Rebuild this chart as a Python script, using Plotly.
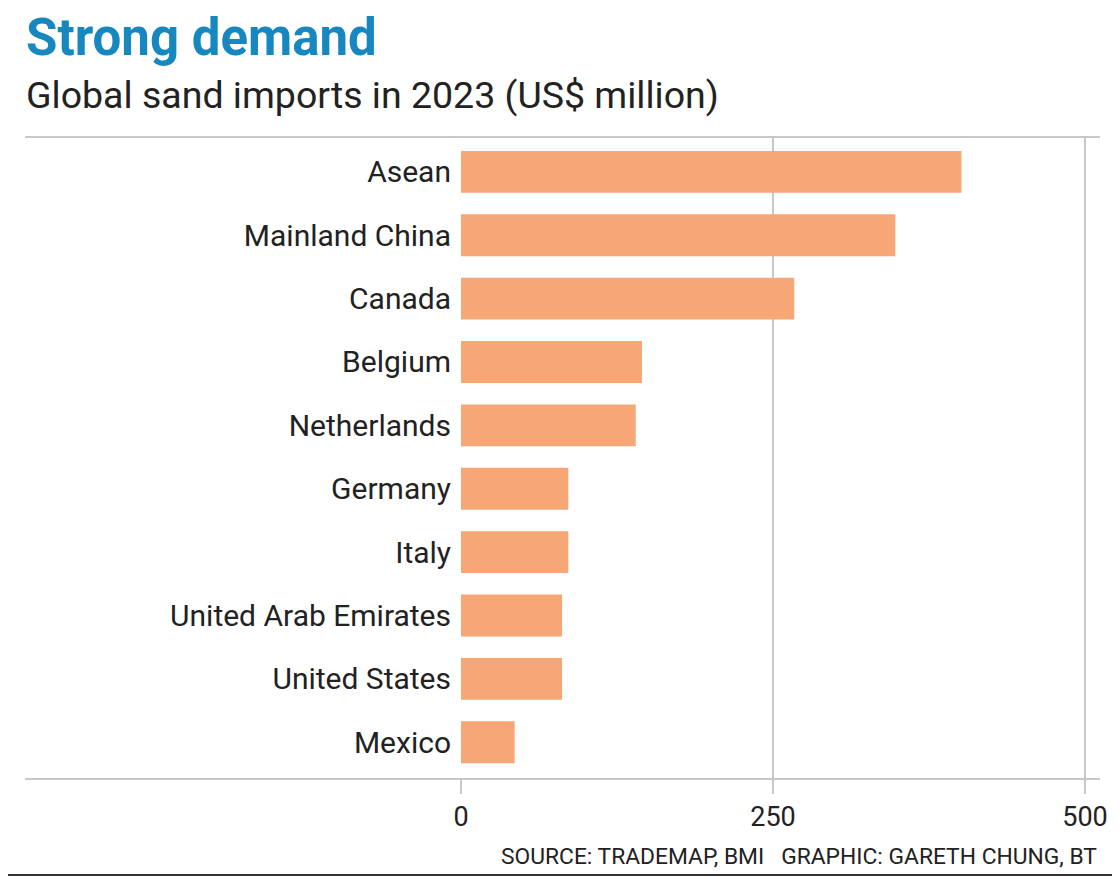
import plotly.graph_objects as go

# 데이터 (US$ million, 2023)
countries = [
    "Asean", "Mainland China", "Canada", "Belgium", "Netherlands",
    "Germany", "Italy", "United Arab Emirates", "United States", "Mexico",
]
imports_musd = [401, 348, 267, 145, 140, 86, 86, 81, 81, 43]
tick_vals = [0, 250, 500]

W, H = 1120, 892
OFF = 8  # 페이지 body margin 보정

# 기준 이미지 픽셀 좌표 (페이지 기준)
PLOT_L, PLOT_R, PLOT_T, PLOT_B = 461, 1095, 137, 779
PX_PER_UNIT = (1085 - 461) / 500

L = PLOT_L - OFF
R = W - (PLOT_R - OFF)
T = PLOT_T - OFF
B = H - (PLOT_B - OFF)
pw = W - L - R
ph = H - T - B


def px(x):
    return (x - OFF - L) / pw


def py(y):
    return 1 - (y - OFF - T) / ph


grid = "#c8c8c8"
FONT = "Roboto, sans-serif"

fig = go.Figure(
    go.Bar(
        x=imports_musd,
        y=countries,
        orientation="h",
        marker=dict(color="#f7a676", line=dict(width=0)),
        width=0.66,
        hoverinfo="x+y",
    )
)

fig.update_layout(
    width=W, height=H,
    margin=dict(l=L, r=R, t=T, b=B, autoexpand=False),
    plot_bgcolor="white",
    paper_bgcolor="white",
    showlegend=False,
    font=dict(family=FONT, color="#222"),
    xaxis=dict(
        range=[0, (PLOT_R - PLOT_L) / PX_PER_UNIT],
        tickvals=tick_vals,
        showgrid=True, gridcolor=grid, gridwidth=1.5,
        zeroline=False, showline=False,
        ticks="outside", ticklen=14, tickcolor=grid, tickwidth=1.5,
        tickfont=dict(size=27, color="#222"),
    ),
    yaxis=dict(
        categoryorder="array", categoryarray=countries,
        range=[9.58, -0.55],
        showgrid=False, zeroline=False, showline=False,
        ticks="outside", ticklen=3, tickcolor="rgba(0,0,0,0)",
        tickfont=dict(size=30, color="#222"),
    ),
)

# 위/아래 가로선 (왼쪽으로 차트 영역 밖까지)
for yy in (PLOT_T, PLOT_B):
    fig.add_shape(type="line", xref="paper", yref="paper",
                  x0=px(25), x1=px(1100), y0=py(yy), y1=py(yy),
                  line=dict(color=grid, width=2))
# 맨 아래 진한 선
fig.add_shape(type="line", xref="paper", yref="paper",
              x0=px(0), x1=px(1128), y0=py(875), y1=py(875),
              line=dict(color="#333", width=2))

fig.add_annotation(text="<b>Strong demand</b>", xref="paper", yref="paper",
                   x=px(24), y=py(38), xanchor="left", yanchor="middle",
                   showarrow=False, font=dict(size=51, color="#1688bf", family=FONT))
fig.add_annotation(text="Global sand imports in 2023 (US$ million)", xref="paper", yref="paper",
                   x=px(24), y=py(95), xanchor="left", yanchor="middle",
                   showarrow=False, font=dict(size=37.5, color="#222", family=FONT))
fig.add_annotation(text="SOURCE: TRADEMAP, BMI   GRAPHIC: GARETH CHUNG, BT", xref="paper", yref="paper",
                   x=px(1099), y=py(856), xanchor="right", yanchor="middle",
                   showarrow=False, font=dict(size=22.8, color="#222", family=FONT))

fig.write_html("out.html")
